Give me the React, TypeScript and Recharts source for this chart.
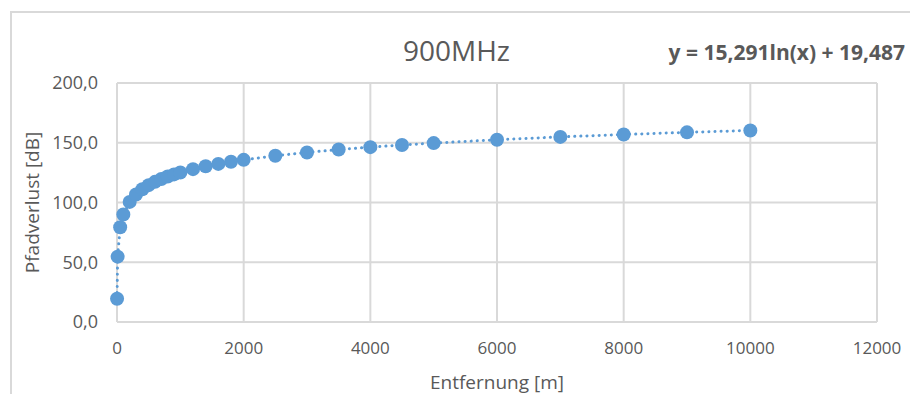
import { LineChart, Line, XAxis, YAxis, CartesianGrid } from "recharts";

// Entfernung [m]
const distances = [1, 10, 50, 100, 200, 300, 400, 500, 600, 700, 800, 900, 1000, 1200, 1400, 1600, 1800, 2000, 2500, 3000, 3500, 4000, 4500, 5000, 6000, 7000, 8000, 9000, 10000];
// Pfadverlust [dB]
const pathLoss = [19.5, 54.7, 79.3, 89.9, 100.5, 106.7, 111.1, 114.5, 117.3, 119.7, 121.7, 123.5, 125.1, 127.9, 130.3, 132.3, 134.1, 135.7, 139.1, 141.9, 144.3, 146.3, 148.1, 149.7, 152.5, 154.9, 156.9, 158.7, 160.3];

const xTicks = [0, 2000, 4000, 6000, 8000, 10000, 12000];
const yTicks = [0, 50, 100, 150, 200];

const data = distances.map((x, i) => ({ x, y: pathLoss[i] }));

const TEXT = "#595959";
const GRID = "#d9d9d9";
const BLUE = "#5b9bd5";
const FONT = "'Open Sans', 'Noto Sans', sans-serif";

const fmt = (v: number) => v.toFixed(1).replace(".", ",");

const App = () => {
  return (
    <div style={{ position: "absolute", left: 0, top: 0, width: 910, height: 394, background: "#fff", fontFamily: FONT }}>
      <div style={{ position: "absolute", left: 10, top: 11, width: 900, height: 383, borderTop: `2px solid ${GRID}`, borderLeft: `2px solid ${GRID}` }} />
      <div style={{ position: "absolute", left: 403, top: 32, fontSize: 28, color: TEXT, lineHeight: "36px" }}>900MHz</div>
      <div style={{ position: "absolute", right: 5, top: 37, fontSize: 21, fontWeight: 700, color: TEXT, lineHeight: "30px", whiteSpace: "nowrap" }}>
        y = 15,291ln(x) + 19,487
      </div>
      <LineChart width={910} height={394} data={data} margin={{ top: 83, right: 33, left: 0, bottom: 0 }} style={{ position: "absolute", left: 0, top: 0 }}>
        <CartesianGrid stroke={GRID} strokeWidth={2} />
        <XAxis
          type="number"
          dataKey="x"
          domain={[0, 12000]}
          ticks={xTicks}
          height={72}
          stroke={GRID}
          strokeWidth={2}
          tickLine={false}
          tickMargin={14}
          tick={{ fill: TEXT, fontSize: 17, fontFamily: FONT }}
          label={{ value: "Entfernung [m]", position: "insideBottom", offset: 5, fill: TEXT, fontSize: 19, fontFamily: FONT }}
        />
        <YAxis
          type="number"
          domain={[0, 200]}
          ticks={yTicks}
          width={117}
          axisLine={false}
          tickLine={false}
          tickMargin={13}
          tickFormatter={fmt}
          tick={{ fill: TEXT, fontSize: 18, fontFamily: FONT }}
          label={{ value: "Pfadverlust [dB]", angle: -90, position: "insideLeft", offset: 32, fill: TEXT, fontSize: 19, fontFamily: FONT, style: { textAnchor: "middle" } }}
        />
        <Line
          type="linear"
          dataKey="y"
          stroke={BLUE}
          strokeWidth={3}
          strokeDasharray="0.1 6"
          strokeLinecap="round"
          dot={{ r: 7, fill: BLUE, stroke: BLUE, strokeWidth: 0 }}
          isAnimationActive={false}
        />
      </LineChart>
    </div>
  );
};

export default App;
